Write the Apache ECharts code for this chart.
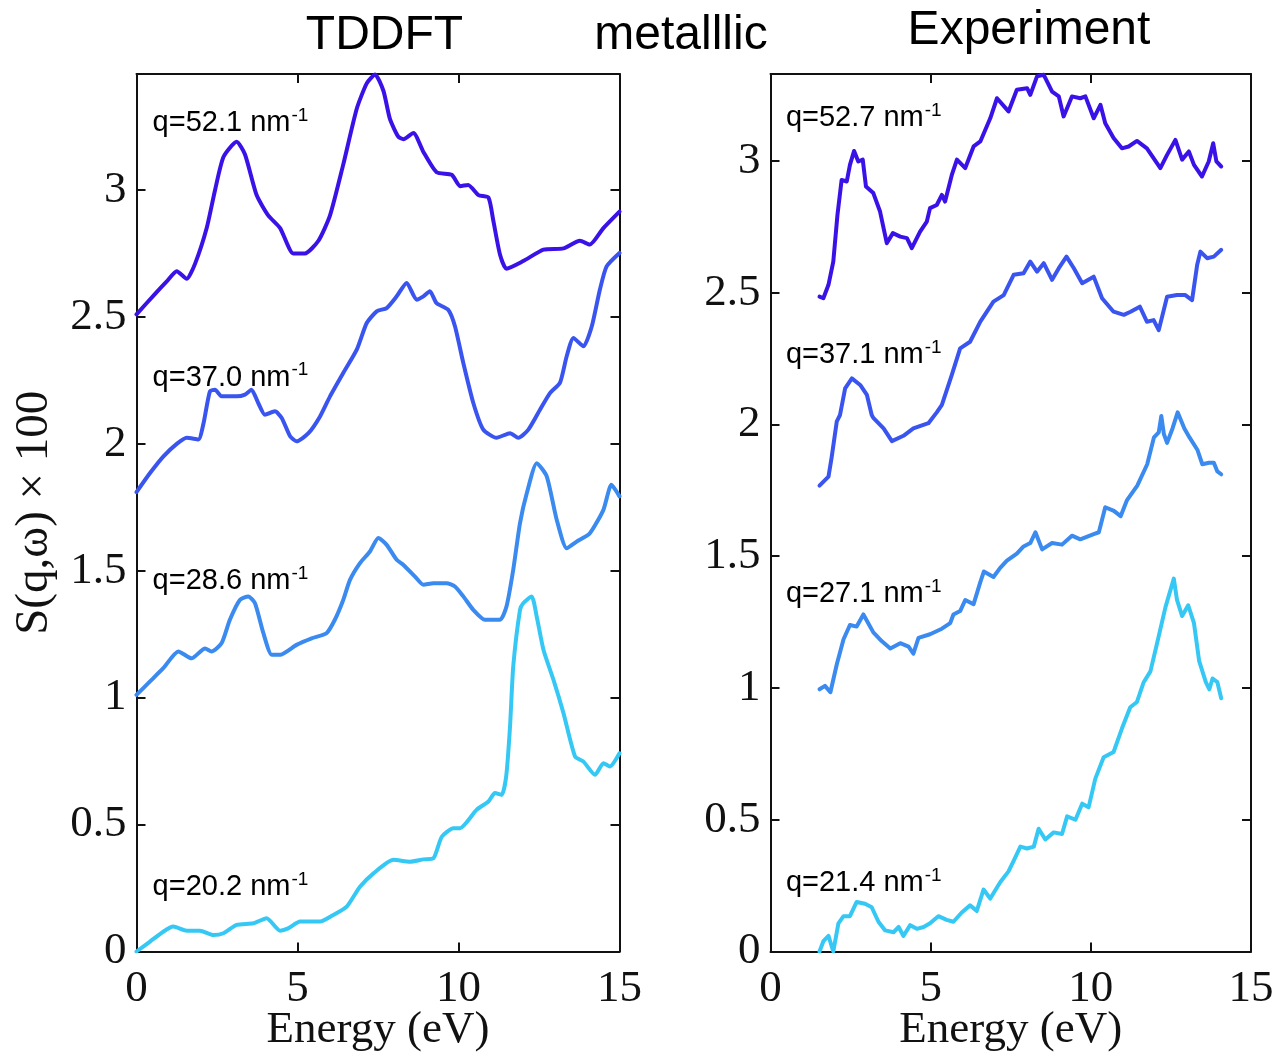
<!DOCTYPE html>
<html>
<head>
<meta charset="utf-8">
<script src="https://cdn.jsdelivr.net/npm/echarts@6.0.0/dist/echarts.min.js"></script>
<style>
  html, body { margin: 0; padding: 0; background: #fff; }
  #chart { width: 1278px; height: 1057px; }
</style>
</head>
<body>
<div id="chart"></div>
<script>
// Dynamic structure factor S(q,w) x 100 vs energy loss (eV), curves offset vertically.

// ---- TDDFT (left panel) ----
const tddft_q52_1 = [[0,2.51],[0.57,2.59],[0.94,2.64],[1.25,2.68],[1.56,2.65],[1.82,2.71],[2.18,2.85],[2.44,3.0],[2.7,3.13],[3.11,3.19],[3.37,3.14],[3.73,2.98],[4.09,2.9],[4.46,2.85],[4.87,2.75],[5.23,2.75],[5.65,2.8],[6.01,2.9],[6.42,3.1],[6.84,3.32],[7.15,3.42],[7.41,3.455],[7.67,3.39],[7.87,3.28],[8.13,3.21],[8.29,3.2],[8.6,3.225],[8.91,3.15],[9.32,3.07],[9.79,3.06],[10.05,3.015],[10.3,3.02],[10.62,2.98],[10.93,2.97],[11.08,2.88],[11.29,2.745],[11.49,2.69],[12.01,2.72],[12.64,2.765],[13.26,2.77],[13.77,2.8],[14.08,2.785],[14.5,2.85],[15,2.915]];
const tddft_q37_0 = [[0,1.81],[0.42,1.885],[0.83,1.95],[1.25,2.0],[1.56,2.024],[1.92,2.017],[2.08,2.08],[2.28,2.207],[2.44,2.213],[2.64,2.187],[3.11,2.187],[3.37,2.194],[3.57,2.213],[3.78,2.161],[3.99,2.115],[4.3,2.128],[4.51,2.102],[4.77,2.03],[4.97,2.01],[5.34,2.042],[5.7,2.108],[6.01,2.187],[6.42,2.279],[6.84,2.371],[7.15,2.476],[7.46,2.522],[7.77,2.535],[8.08,2.581],[8.39,2.634],[8.7,2.568],[8.91,2.581],[9.11,2.601],[9.32,2.554],[9.68,2.528],[9.89,2.463],[10.15,2.318],[10.46,2.161],[10.77,2.056],[11.18,2.024],[11.6,2.042],[11.86,2.024],[12.17,2.056],[12.53,2.134],[12.84,2.2],[13.15,2.24],[13.36,2.345],[13.57,2.417],[13.88,2.384],[14.14,2.463],[14.39,2.607],[14.6,2.699],[15,2.752]];
const tddft_q28_6 = [[0,1.011],[0.42,1.064],[0.83,1.116],[1.3,1.182],[1.71,1.155],[2.13,1.194],[2.33,1.182],[2.64,1.214],[2.9,1.307],[3.21,1.385],[3.47,1.399],[3.68,1.372],[3.94,1.254],[4.2,1.169],[4.46,1.169],[4.97,1.208],[5.44,1.234],[5.9,1.254],[6.16,1.307],[6.42,1.385],[6.63,1.464],[6.94,1.53],[7.25,1.576],[7.51,1.629],[7.77,1.602],[8.08,1.543],[8.29,1.523],[8.65,1.477],[8.91,1.445],[9.22,1.451],[9.63,1.451],[9.89,1.438],[10.15,1.399],[10.46,1.346],[10.82,1.307],[11.29,1.307],[11.49,1.359],[11.7,1.504],[11.91,1.688],[12.12,1.805],[12.43,1.924],[12.74,1.872],[13.05,1.701],[13.36,1.589],[13.67,1.615],[14.08,1.648],[14.5,1.74],[14.75,1.839],[15,1.793]];
const tddft_q20_2 = [[0,0.0],[0.42,0.039],[0.83,0.078],[1.14,0.098],[1.56,0.082],[1.97,0.082],[2.39,0.065],[2.7,0.072],[3.11,0.105],[3.63,0.111],[4.04,0.131],[4.46,0.082],[4.71,0.091],[5.08,0.118],[5.7,0.118],[6.11,0.144],[6.53,0.177],[6.94,0.255],[7.36,0.308],[7.98,0.361],[8.49,0.354],[8.91,0.363],[9.22,0.367],[9.48,0.452],[9.84,0.486],[10.05,0.486],[10.56,0.558],[10.93,0.591],[11.13,0.624],[11.34,0.617],[11.48,0.689],[11.6,0.886],[11.7,1.123],[11.91,1.346],[12.01,1.372],[12.27,1.399],[12.43,1.319],[12.64,1.188],[12.95,1.07],[13.26,0.939],[13.62,0.768],[13.88,0.748],[14.24,0.696],[14.5,0.742],[14.7,0.729],[15,0.781]];

// ---- Experiment (right panel) ----
const exp_q52_7 = [[1.53,2.485],[1.65,2.479],[1.81,2.53],[1.96,2.618],[2.09,2.795],[2.22,2.928],[2.38,2.922],[2.48,2.985],[2.61,3.038],[2.74,2.998],[2.88,3.005],[2.98,2.903],[3.21,2.878],[3.42,2.808],[3.63,2.688],[3.82,2.726],[4.05,2.713],[4.26,2.707],[4.41,2.669],[4.67,2.732],[4.88,2.77],[4.98,2.821],[5.19,2.833],[5.35,2.871],[5.45,2.846],[5.66,2.947],[5.82,3.005],[6.08,2.973],[6.34,3.055],[6.55,3.074],[6.86,3.162],[7.07,3.238],[7.43,3.188],[7.69,3.27],[8.01,3.276],[8.11,3.251],[8.32,3.321],[8.53,3.327],[8.79,3.263],[9.0,3.245],[9.15,3.169],[9.41,3.245],[9.67,3.238],[9.83,3.245],[10.09,3.162],[10.3,3.213],[10.45,3.143],[10.71,3.087],[10.97,3.048],[11.18,3.055],[11.44,3.076],[11.75,3.048],[12.17,2.973],[12.38,3.023],[12.64,3.08],[12.85,3.005],[13.06,3.036],[13.22,2.985],[13.47,2.941],[13.68,2.998],[13.82,3.067],[13.92,2.998],[14.07,2.979]];
const exp_q37_1 = [[1.53,1.768],[1.81,1.802],[1.91,1.876],[2.07,2.012],[2.17,2.036],[2.33,2.137],[2.54,2.175],[2.8,2.15],[3.01,2.112],[3.16,2.036],[3.21,2.025],[3.53,1.985],[3.79,1.937],[4.15,1.957],[4.46,1.985],[4.93,2.005],[5.19,2.046],[5.35,2.074],[5.66,2.188],[5.92,2.289],[6.23,2.314],[6.55,2.39],[6.96,2.466],[7.28,2.491],[7.59,2.568],[7.9,2.574],[8.11,2.618],[8.32,2.58],[8.53,2.612],[8.79,2.549],[9.0,2.593],[9.24,2.637],[9.47,2.593],[9.73,2.536],[10.09,2.561],[10.35,2.479],[10.71,2.428],[11.03,2.416],[11.24,2.428],[11.53,2.447],[11.75,2.39],[11.96,2.396],[12.12,2.358],[12.38,2.485],[12.69,2.491],[12.95,2.491],[13.16,2.472],[13.32,2.606],[13.42,2.656],[13.63,2.631],[13.84,2.637],[14.07,2.663]];
const exp_q27_1 = [[1.53,0.995],[1.7,1.008],[1.87,0.984],[2.07,1.09],[2.28,1.185],[2.48,1.239],[2.69,1.233],[2.9,1.279],[3.21,1.211],[3.47,1.178],[3.74,1.15],[4.05,1.17],[4.31,1.157],[4.46,1.13],[4.62,1.19],[4.98,1.204],[5.35,1.225],[5.61,1.246],[5.71,1.279],[5.92,1.292],[6.08,1.334],[6.34,1.318],[6.55,1.402],[6.66,1.442],[6.96,1.421],[7.17,1.456],[7.38,1.483],[7.69,1.51],[7.9,1.537],[8.11,1.55],[8.27,1.591],[8.48,1.526],[8.79,1.55],[9.1,1.544],[9.41,1.578],[9.67,1.564],[10.09,1.584],[10.25,1.591],[10.45,1.686],[10.72,1.672],[10.93,1.652],[11.13,1.713],[11.45,1.768],[11.76,1.849],[11.97,1.951],[12.12,1.97],[12.2,2.032],[12.28,1.964],[12.38,1.93],[12.55,1.985],[12.71,2.046],[12.92,1.985],[13.08,1.951],[13.33,1.903],[13.48,1.849],[13.69,1.855],[13.84,1.855],[13.95,1.822],[14.07,1.811]];
const exp_q21_4 = [[1.53,0.0],[1.65,0.039],[1.81,0.059],[1.96,0.0],[2.12,0.107],[2.28,0.134],[2.48,0.134],[2.69,0.188],[2.95,0.181],[3.16,0.168],[3.37,0.113],[3.58,0.08],[3.84,0.073],[4.0,0.093],[4.15,0.059],[4.36,0.1],[4.57,0.086],[4.78,0.093],[4.98,0.107],[5.24,0.134],[5.5,0.12],[5.71,0.113],[5.97,0.148],[6.23,0.175],[6.44,0.154],[6.65,0.235],[6.86,0.201],[7.17,0.263],[7.43,0.304],[7.59,0.344],[7.8,0.398],[8.01,0.391],[8.22,0.398],[8.37,0.466],[8.58,0.425],[8.84,0.452],[9.1,0.446],[9.26,0.513],[9.52,0.5],[9.73,0.561],[9.93,0.547],[10.14,0.656],[10.4,0.737],[10.71,0.757],[10.97,0.846],[11.23,0.927],[11.44,0.947],[11.65,1.022],[11.86,1.063],[12.07,1.171],[12.33,1.307],[12.59,1.415],[12.69,1.334],[12.85,1.273],[13.04,1.314],[13.22,1.246],[13.38,1.103],[13.59,1.022],[13.7,0.995],[13.8,1.036],[13.95,1.022],[14.07,0.961]];

// Momentum-transfer labels (nm^-1) and where each one sits, in axis units [eV, S]
const tddftQ = ['q=52.1', 'q=37.0', 'q=28.6', 'q=20.2'];
const tddftQAt = [[0.5, 3.231], [0.5, 2.229], [0.5, 1.428], [0.5, 0.223]];
const expQ = ['q=52.7', 'q=37.1', 'q=27.1', 'q=21.4'];
const expQAt = [[0.48, 3.133], [0.48, 2.232], [0.48, 1.327], [0.48, 0.229]];

const xTicks = [0, 5, 10, 15];
const yTicks = [0, 0.5, 1, 1.5, 2, 2.5, 3];

const colors = ['#3a12e8', '#3a55ef', '#3a8af0', '#36c8f4'];

const serif = '"Liberation Serif", "Times New Roman", serif';
const sans = '"Liberation Sans", Arial, sans-serif';
const ink = '#111';

const chart = echarts.init(document.getElementById('chart'), null, { renderer: 'canvas' });

function bottomX(grid, withName) {
  return {
    type: 'value', gridIndex: grid, position: 'bottom',
    min: xTicks[0], max: xTicks[xTicks.length - 1], interval: 5,
    name: withName ? 'Energy (eV)' : '', nameLocation: 'middle', nameGap: 56,
    nameMoveOverlap: false,
    nameTextStyle: { fontFamily: serif, fontSize: 45, color: ink },
    axisLine: { show: true, onZero: false, lineStyle: { color: ink, width: 2 } },
    axisTick: { show: true, inside: true, length: 9, lineStyle: { color: ink, width: 2 } },
    axisLabel: { show: true, margin: 15, fontFamily: serif, fontSize: 45, color: ink,
                 formatter: v => xTicks.includes(v) ? String(v) : '' },
    splitLine: { show: false }
  };
}
function topX(grid) {
  return {
    type: 'value', gridIndex: grid, position: 'top',
    min: xTicks[0], max: xTicks[xTicks.length - 1], interval: 5,
    axisLine: { show: true, onZero: false, lineStyle: { color: ink, width: 2 } },
    axisTick: { show: true, inside: true, length: 9, lineStyle: { color: ink, width: 2 } },
    axisLabel: { show: false }, splitLine: { show: false }
  };
}
function leftY(grid, max, withName) {
  return {
    type: 'value', gridIndex: grid, position: 'left',
    min: 0, max: max, interval: 0.5,
    name: withName ? 'S(q,ω) × 100' : '', nameLocation: 'middle', nameGap: 78, nameRotate: 90,
    nameMoveOverlap: false,
    nameTextStyle: { fontFamily: serif, fontSize: 47, color: ink },
    axisLine: { show: true, onZero: false, lineStyle: { color: ink, width: 2 } },
    axisTick: { show: true, inside: true, length: 9, lineStyle: { color: ink, width: 2 } },
    axisLabel: { show: true, margin: 10, fontFamily: serif, fontSize: 45, color: ink,
                 showMaxLabel: false,
                 formatter: v => yTicks.some(t => Math.abs(t - v) < 1e-9) ? String(v) : '' },
    splitLine: { show: false }
  };
}
function rightY(grid, max) {
  return {
    type: 'value', gridIndex: grid, position: 'right',
    min: 0, max: max, interval: 0.5,
    axisLine: { show: true, onZero: false, lineStyle: { color: ink, width: 2 } },
    axisTick: { show: true, inside: true, length: 9, lineStyle: { color: ink, width: 2 } },
    axisLabel: { show: false }, splitLine: { show: false }
  };
}

function curve(data, color, axis, smooth) {
  return {
    type: 'line', xAxisIndex: axis, yAxisIndex: axis, data: data,
    showSymbol: false, symbol: 'none', smooth: smooth,
    lineStyle: { color: color, width: 4, join: 'round', cap: 'round' },
    emphasis: { disabled: true }, silent: true, z: 3
  };
}

function qLabels(texts, at, axis) {
  return {
    type: 'scatter', xAxisIndex: axis, yAxisIndex: axis, symbolSize: 0, silent: true, z: 6,
    itemStyle: { opacity: 1 },
    data: at.map((p, i) => ({ value: p, label: { formatter: '{m|' + texts[i] + ' nm}{s|-1}' } })),
    label: {
      show: true, position: [0, 0], align: 'left', verticalAlign: 'bottom', offset: [0, 9],
      color: '#000', textBorderWidth: 0,
      rich: {
        m: { fontFamily: sans, fontSize: 29, color: '#000', lineHeight: 34 },
        s: { fontFamily: sans, fontSize: 19, color: '#000', lineHeight: 14, verticalAlign: 'top',
             padding: [0, 0, 0, 1] }
      }
    }
  };
}

const gridBase = { top: 74, height: 877.5, show: false, outerBoundsMode: 'none', containLabel: false };

const option = {
  backgroundColor: '#fff',
  animation: false,
  grid: [
    Object.assign({ left: 136.5, width: 483 }, gridBase),
    Object.assign({ left: 770.5, width: 480.5 }, gridBase)
  ],
  xAxis: [bottomX(0, true), topX(0), bottomX(1, true), topX(1)],
  yAxis: [leftY(0, 3.457, true), rightY(0, 3.457), leftY(1, 3.33, false), rightY(1, 3.33)],
  graphic: [
    { type: 'text', x: 384.5, y: 60, style: { text: 'TDDFT', font: '48px ' + sans, fill: '#000', align: 'center', verticalAlign: 'bottom' } },
    { type: 'text', x: 681, y: 60, style: { text: 'metalllic', font: '48px ' + sans, fill: '#000', align: 'center', verticalAlign: 'bottom' } },
    { type: 'text', x: 1029, y: 55, style: { text: 'Experiment', font: '48px ' + sans, fill: '#000', align: 'center', verticalAlign: 'bottom' } }
  ],
  series: [
    curve(tddft_q52_1, colors[0], 0, 0.2),
    curve(tddft_q37_0, colors[1], 0, 0.2),
    curve(tddft_q28_6, colors[2], 0, 0.2),
    curve(tddft_q20_2, colors[3], 0, 0.2),
    curve(exp_q52_7, colors[0], 2, false),
    curve(exp_q37_1, colors[1], 2, false),
    curve(exp_q27_1, colors[2], 2, false),
    curve(exp_q21_4, colors[3], 2, false),
    qLabels(tddftQ, tddftQAt, 0),
    qLabels(expQ, expQAt, 2)
  ]
};

chart.setOption(option);
</script>
</body>
</html>
